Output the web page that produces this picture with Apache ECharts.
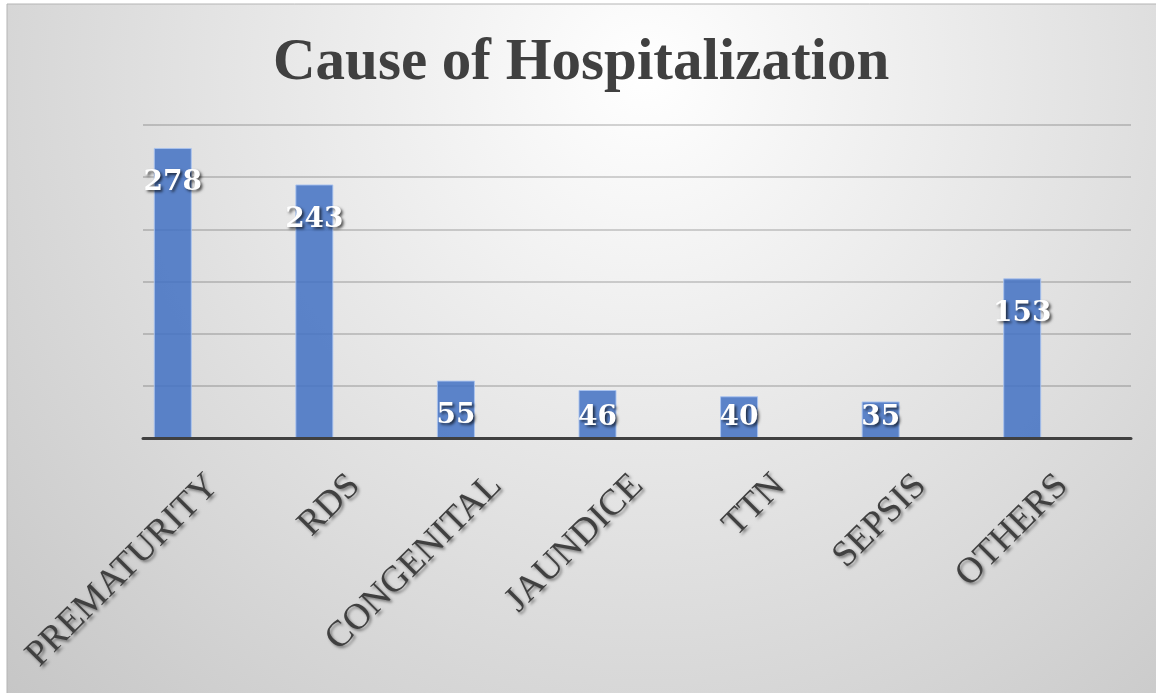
<!DOCTYPE html>
<html>
<head>
<meta charset="utf-8">
<title>Cause of Hospitalization</title>
<script src="https://cdn.jsdelivr.net/npm/echarts@6/dist/echarts.min.js"></script>
<style>
  html, body { margin: 0; padding: 0; background: #ffffff; }
  #chart { width: 1156px; height: 693px; }
</style>
</head>
<body>
<div id="chart"></div>
<script>
// Data
const chartTitle = 'Cause of Hospitalization';
const categories = ['PREMATURITY', 'RDS', 'CONGENITAL', 'JAUNDICE', 'TTN', 'SEPSIS', 'OTHERS'];
const admissions = [278, 243, 55, 46, 40, 35, 153];
const yMin = 0;
const yMax = 300;
const yStep = 50;

// Layout
const plotTop = 125;
const plotBottom = 255;
const plotHeight = 693 - plotTop - plotBottom;
const pxPerUnit = plotHeight / (yMax - yMin);
const labelRoom = 54; // px a bar needs to hold its value label below its top

const ink = '#404040';
const barFill = 'rgba(68, 114, 196, 0.86)';

// Short bars keep their label resting near the baseline instead of the top
const barData = admissions.map(function (v) {
  const tall = v * pxPerUnit >= labelRoom;
  return tall ? { value: v } : { value: v, label: { position: 'insideBottom', distance: 6 } };
});

const chart = echarts.init(document.getElementById('chart'), null, { renderer: 'canvas' });

chart.setOption({
  animation: false,
  backgroundColor: '#ffffff',
  title: {
    text: chartTitle,
    left: 268,
    top: 29,
    textStyle: {
      fontFamily: 'Liberation Serif',
      fontWeight: 'bold',
      fontSize: 59,
      color: ink
    }
  },
  graphic: {
    elements: [{
      type: 'rect',
      z: -100,
      silent: true,
      shape: { x: 7, y: 4, width: 1160, height: 700 },
      style: {
        fill: new echarts.graphic.RadialGradient(0.55, 0.1, 1.36, [
          { offset: 0, color: '#ffffff' },
          { offset: 1, color: '#c2c2c2' }
        ]),
        stroke: '#b4b4b4',
        lineWidth: 1
      }
    }]
  },
  grid: [
    // bars and category labels
    { left: 102, right: 63, top: plotTop, bottom: plotBottom, containLabel: false, outerBoundsMode: 'none' },
    // gridlines and baseline
    { left: 143, right: 25, top: plotTop, bottom: plotBottom, containLabel: false, outerBoundsMode: 'none' }
  ],
  xAxis: [
    {
      type: 'category',
      gridIndex: 0,
      data: categories,
      boundaryGap: true,
      axisLine: { show: false },
      axisTick: { show: false },
      splitLine: { show: false },
      axisLabel: {
        interval: 0,
        rotate: 45,
        margin: 2,
        align: 'right',
        verticalAlign: 'middle',
        // a blank first line pushes the name down-right, off the tick
        formatter: function (name) { return '\n' + name; },
        lineHeight: 114,
        fontFamily: 'Liberation Serif',
        fontSize: 36.5,
        color: ink,
        textShadowColor: 'rgba(0,0,0,0.45)',
        textShadowBlur: 3,
        textShadowOffsetX: 2,
        textShadowOffsetY: 2
      }
    },
    {
      type: 'value',
      gridIndex: 1,
      min: 0,
      max: 1,
      z: 5,
      axisLine: { show: true, lineStyle: { color: ink, width: 3 } },
      axisTick: { show: false },
      axisLabel: { show: false },
      splitLine: { show: false }
    }
  ],
  yAxis: [
    {
      type: 'value',
      gridIndex: 0,
      min: yMin,
      max: yMax,
      interval: yStep,
      axisLine: { show: false },
      axisTick: { show: false },
      axisLabel: { show: false },
      splitLine: { show: false }
    },
    {
      type: 'value',
      gridIndex: 1,
      min: yMin,
      max: yMax,
      interval: yStep,
      axisLine: { show: false },
      axisTick: { show: false },
      axisLabel: { show: false },
      splitLine: { show: true, lineStyle: { color: 'rgba(0,0,0,0.22)', width: 1.5 } }
    }
  ],
  series: [{
    type: 'bar',
    xAxisIndex: 0,
    yAxisIndex: 0,
    data: barData,
    barWidth: 38,
    itemStyle: {
      color: barFill,
      borderColor: 'rgba(170, 195, 240, 0.9)',
      borderWidth: 1
    },
    label: {
      show: true,
      position: 'insideTop',
      distance: 21,
      fontFamily: 'DejaVu Serif',
      fontWeight: 'bold',
      fontSize: 28,
      color: '#ffffff',
      textShadowColor: 'rgba(0,0,0,0.65)',
      textShadowBlur: 3,
      textShadowOffsetX: 2,
      textShadowOffsetY: 2
    }
  }]
});
</script>
</body>
</html>
